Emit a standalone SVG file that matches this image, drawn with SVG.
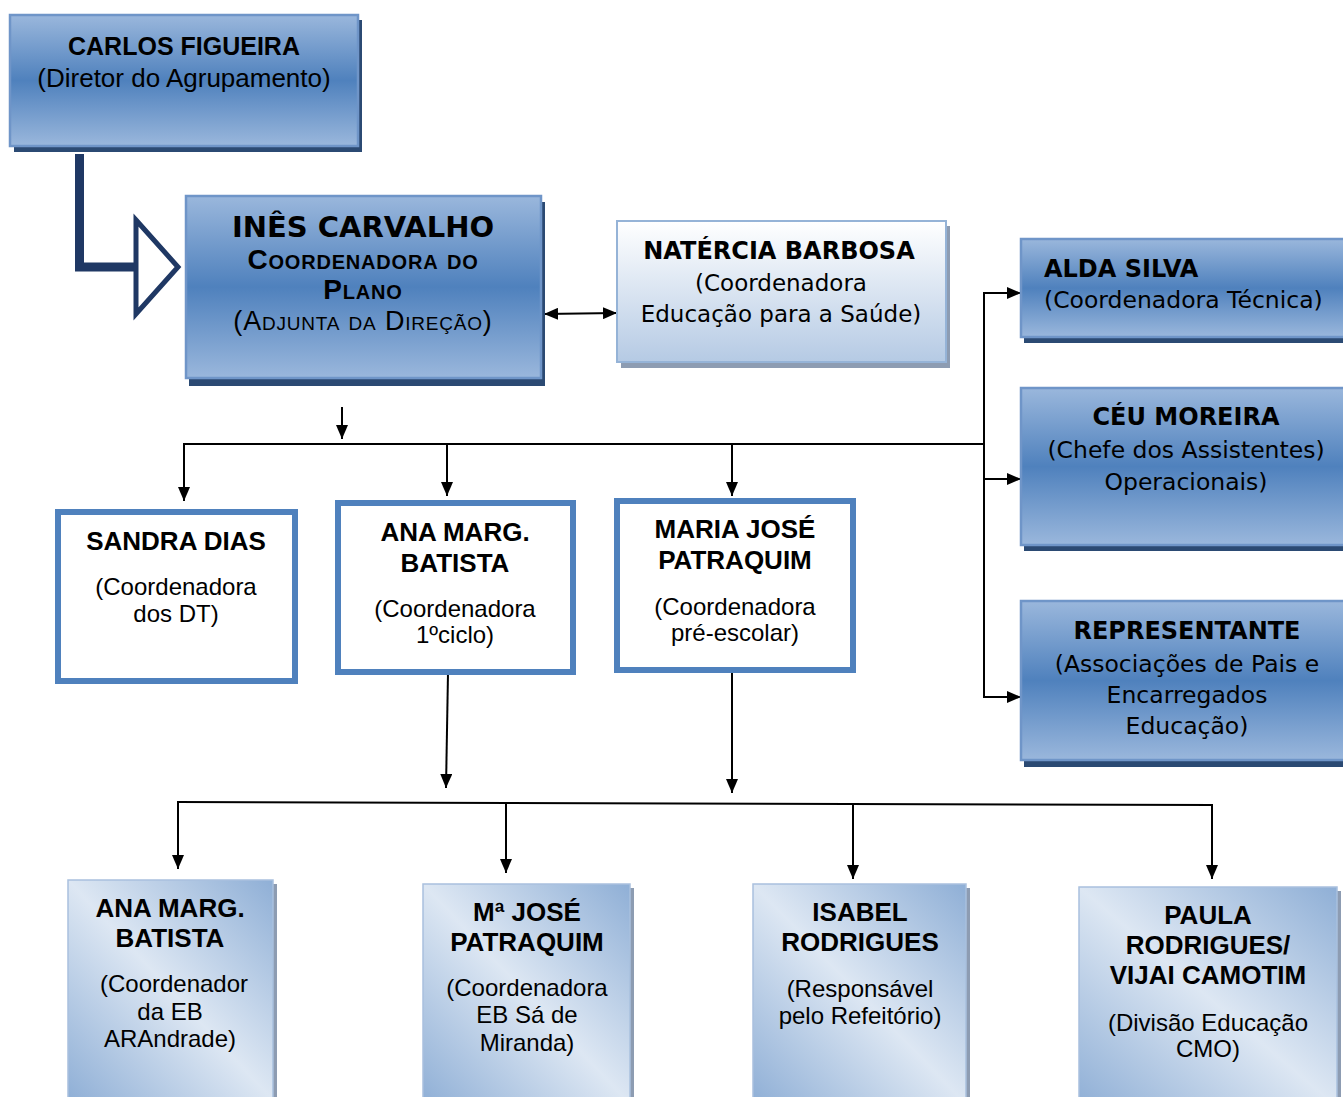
<svg xmlns="http://www.w3.org/2000/svg" width="1343" height="1097" viewBox="0 0 1343 1097">
<style>
  .ar { font-family: "Liberation Sans", Arial, sans-serif; fill: #000; text-anchor: middle; }
  .vd { font-family: "DejaVu Sans", Verdana, sans-serif; fill: #000; text-anchor: middle; }
  .st { text-anchor: start; }
  .b { font-weight: bold; }
  .conn { stroke: #000; stroke-width: 2; fill: none; }
  .darkbox { fill: url(#gDark); stroke: #6f95c8; stroke-width: 2.5; }
  .darkshadow { fill: #2b4a73; }
  .lightshadow { fill: #8d9cb2; }
  .whitebox { fill: #fff; stroke: #4f81bd; stroke-width: 6; }
  .diagbox { stroke: #a9c0de; stroke-width: 1.5; }
</style>
<defs>
  <linearGradient id="gDark" x1="0" y1="0" x2="0" y2="1">
    <stop offset="0" stop-color="#9ab7dc"/>
    <stop offset="0.5" stop-color="#4f81bd"/>
    <stop offset="1" stop-color="#9ab7dc"/>
  </linearGradient>
  <linearGradient id="gNat" x1="0" y1="0" x2="0" y2="1">
    <stop offset="0" stop-color="#ffffff"/>
    <stop offset="1" stop-color="#b5cae4"/>
  </linearGradient>
  <linearGradient id="gDiag" x1="1" y1="0" x2="0" y2="1">
    <stop offset="0" stop-color="#8fafd6"/>
    <stop offset="0.5" stop-color="#dde7f3"/>
    <stop offset="1" stop-color="#8fafd6"/>
  </linearGradient>
  <marker id="ah" markerUnits="userSpaceOnUse" markerWidth="14" markerHeight="12" refX="14" refY="6" orient="auto-start-reverse">
    <path d="M0,0 L14,6 L0,12 z" fill="#000"/>
  </marker>
</defs>

<g id="connectors">
  <path d="M79.5,154 V267 H136" stroke="#1f3864" stroke-width="9" fill="none"/>
  <path d="M136,220 L178,267 L136,314 z" fill="#fff" stroke="#1f3864" stroke-width="5" stroke-linejoin="miter"/>
  <line class="conn" x1="544" y1="314" x2="617" y2="313" marker-start="url(#ah)" marker-end="url(#ah)"/>
  <line class="conn" x1="342" y1="407" x2="342" y2="439" marker-end="url(#ah)"/>
  <line class="conn" x1="183" y1="444" x2="985" y2="444"/>
  <line class="conn" x1="184" y1="444" x2="184" y2="501" marker-end="url(#ah)"/>
  <line class="conn" x1="447" y1="444" x2="447" y2="496" marker-end="url(#ah)"/>
  <line class="conn" x1="732" y1="444" x2="732" y2="496" marker-end="url(#ah)"/>
  <line class="conn" x1="984" y1="292" x2="984" y2="698"/>
  <line class="conn" x1="983" y1="293" x2="1021" y2="293" marker-end="url(#ah)"/>
  <line class="conn" x1="983" y1="479" x2="1021" y2="479" marker-end="url(#ah)"/>
  <line class="conn" x1="983" y1="697" x2="1021" y2="697" marker-end="url(#ah)"/>
  <line class="conn" x1="448" y1="673" x2="446" y2="788" marker-end="url(#ah)"/>
  <line class="conn" x1="732" y1="673" x2="732" y2="793" marker-end="url(#ah)"/>
  <line class="conn" x1="177" y1="802" x2="1213" y2="805"/>
  <line class="conn" x1="178" y1="802" x2="178" y2="869" marker-end="url(#ah)"/>
  <line class="conn" x1="506" y1="803" x2="506" y2="873" marker-end="url(#ah)"/>
  <line class="conn" x1="853" y1="804" x2="853" y2="879" marker-end="url(#ah)"/>
  <line class="conn" x1="1212" y1="805" x2="1212" y2="879" marker-end="url(#ah)"/>
</g>

<g id="carlos">
  <rect class="darkshadow" x="14" y="20" width="348" height="132"/>
  <rect class="darkbox" x="10" y="15" width="348" height="131"/>
  <text class="ar b" x="184" y="55" font-size="25">CARLOS FIGUEIRA</text>
  <text class="ar" x="184" y="87" font-size="26">(Diretor do Agrupamento)</text>
</g>

<g id="ines">
  <rect class="darkshadow" x="189" y="202" width="356" height="184"/>
  <rect class="darkbox" x="186" y="196" width="355" height="182"/>
  <text class="vd b" x="363" y="237" font-size="29">INÊS CARVALHO</text>
  <text class="ar b" x="363" y="269" font-size="28" font-variant="small-caps" letter-spacing="0.8">Coordenadora do</text>
  <text class="ar b" x="363" y="299" font-size="28" font-variant="small-caps" letter-spacing="0.8">Plano</text>
  <text class="ar" x="363" y="330" font-size="27" font-variant="small-caps" letter-spacing="0.8">(Adjunta da Direção)</text>
</g>

<g id="natercia">
  <rect class="lightshadow" x="621" y="226" width="329" height="142"/>
  <rect x="617" y="221" width="329" height="141" fill="url(#gNat)" stroke="#95b3d7" stroke-width="2"/>
  <text class="vd b" x="779" y="259" font-size="24">NATÉRCIA BARBOSA</text>
  <text class="vd" x="781" y="291" font-size="23">(Coordenadora</text>
  <text class="vd" x="781" y="322" font-size="23">Educação para a Saúde)</text>
</g>

<g id="alda">
  <rect class="darkshadow" x="1024" y="244" width="330" height="99"/>
  <rect class="darkbox" x="1021" y="239" width="330" height="98"/>
  <text class="vd b st" x="1044" y="277" font-size="24">ALDA SILVA</text>
  <text class="vd st" x="1044" y="308" font-size="23.5">(Coordenadora Técnica)</text>
</g>

<g id="ceu">
  <rect class="darkshadow" x="1024" y="394" width="330" height="157"/>
  <rect class="darkbox" x="1021" y="388" width="330" height="157"/>
  <text class="vd b" x="1186" y="425" font-size="24">CÉU MOREIRA</text>
  <text class="vd" x="1186" y="458" font-size="23.5">(Chefe dos Assistentes)</text>
  <text class="vd" x="1186" y="490" font-size="23.5">Operacionais)</text>
</g>

<g id="representante">
  <rect class="darkshadow" x="1024" y="607" width="330" height="160"/>
  <rect class="darkbox" x="1021" y="601" width="330" height="159"/>
  <text class="vd b" x="1187" y="639" font-size="24">REPRESENTANTE</text>
  <text class="vd" x="1187" y="672" font-size="23.5">(Associações de Pais e</text>
  <text class="vd" x="1187" y="703" font-size="23.5">Encarregados</text>
  <text class="vd" x="1187" y="734" font-size="23.5">Educação)</text>
</g>

<g id="sandra">
  <rect class="whitebox" x="58" y="512" width="237" height="169"/>
  <text class="ar b" x="176" y="550" font-size="26">SANDRA DIAS</text>
  <text class="ar" x="176" y="595" font-size="24">(Coordenadora</text>
  <text class="ar" x="176" y="622" font-size="24">dos DT)</text>
</g>

<g id="ana-marg">
  <rect class="whitebox" x="338" y="503" width="235" height="169"/>
  <text class="ar b" x="455" y="541" font-size="26">ANA MARG.</text>
  <text class="ar b" x="455" y="572" font-size="26">BATISTA</text>
  <text class="ar" x="455" y="617" font-size="24">(Coordenadora</text>
  <text class="ar" x="455" y="643" font-size="24">1ºciclo)</text>
</g>

<g id="maria-jose">
  <rect class="whitebox" x="617" y="501" width="236" height="169"/>
  <text class="ar b" x="735" y="538" font-size="26">MARIA JOSÉ</text>
  <text class="ar b" x="735" y="569" font-size="26">PATRAQUIM</text>
  <text class="ar" x="735" y="615" font-size="24">(Coordenadora</text>
  <text class="ar" x="735" y="641" font-size="24">pré-escolar)</text>
</g>

<g id="ana-eb">
  <rect class="lightshadow" x="72" y="884" width="205" height="220"/>
  <rect class="diagbox" x="68" y="880" width="205" height="220" fill="url(#gDiag)"/>
  <text class="ar b" x="170" y="917" font-size="26">ANA MARG.</text>
  <text class="ar b" x="170" y="947" font-size="26">BATISTA</text>
  <text class="ar" x="174" y="992" font-size="24">(Coordenador</text>
  <text class="ar" x="170" y="1020" font-size="24">da EB</text>
  <text class="ar" x="170" y="1047" font-size="24">ARAndrade)</text>
</g>

<g id="maria-eb">
  <rect class="lightshadow" x="427" y="888" width="207" height="220"/>
  <rect class="diagbox" x="423" y="884" width="207" height="220" fill="url(#gDiag)"/>
  <text class="ar b" x="527" y="921" font-size="26">Mª JOSÉ</text>
  <text class="ar b" x="527" y="951" font-size="26">PATRAQUIM</text>
  <text class="ar" x="527" y="996" font-size="24">(Coordenadora</text>
  <text class="ar" x="527" y="1023" font-size="24">EB Sá de</text>
  <text class="ar" x="527" y="1051" font-size="24">Miranda)</text>
</g>

<g id="isabel">
  <rect class="lightshadow" x="757" y="888" width="213" height="220"/>
  <rect class="diagbox" x="753" y="884" width="213" height="220" fill="url(#gDiag)"/>
  <text class="ar b" x="860" y="921" font-size="26">ISABEL</text>
  <text class="ar b" x="860" y="951" font-size="26">RODRIGUES</text>
  <text class="ar" x="860" y="997" font-size="24">(Responsável</text>
  <text class="ar" x="860" y="1024" font-size="24">pelo Refeitório)</text>
</g>

<g id="paula">
  <rect class="lightshadow" x="1083" y="891" width="258" height="220"/>
  <rect class="diagbox" x="1079" y="887" width="258" height="220" fill="url(#gDiag)"/>
  <text class="ar b" x="1208" y="924" font-size="26">PAULA</text>
  <text class="ar b" x="1208" y="954" font-size="26">RODRIGUES/</text>
  <text class="ar b" x="1208" y="984" font-size="26">VIJAI CAMOTIM</text>
  <text class="ar" x="1208" y="1031" font-size="24">(Divisão Educação</text>
  <text class="ar" x="1208" y="1057" font-size="24">CMO)</text>
</g>
</svg>
